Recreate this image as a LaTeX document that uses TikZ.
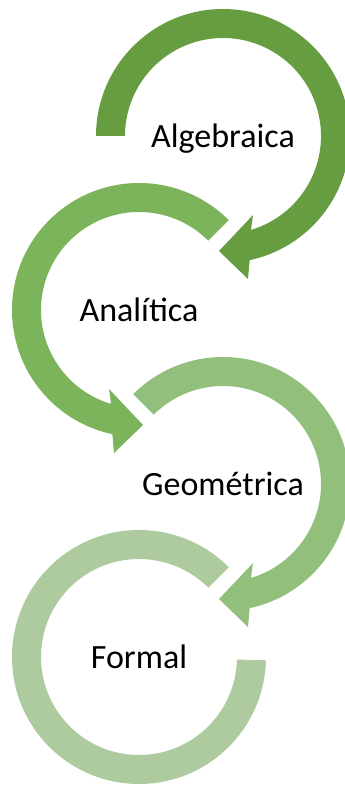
\documentclass[tikz,border=0pt]{standalone}
\usepackage{fontspec}
\setmainfont{Carlito}
\begin{document}
\begin{tikzpicture}[x=1pt, y=1pt]
    \def\rOut{127}
    \def\rIn{98}

    \definecolor{ringOne}{HTML}{669D41}
    \definecolor{ringTwo}{HTML}{7BB45A}
    \definecolor{ringThree}{HTML}{93BF7D}
    \definecolor{ringFour}{HTML}{ADCB9E}

    \tikzset{stage text/.style={anchor=base, text=black, font=\fontsize{34}{40}\selectfont}}

    % Page frame
    \useasboundingbox (0,0) rectangle (345,785);
    \clip (0,0) rectangle (345,785);

    % Circle centres
    \coordinate (C1) at (223,649);
    \coordinate (C2) at (139,475);
    \coordinate (C3) at (223,301);
    \coordinate (C4) at (139,128);

    % Ring running clockwise from angle #1, ending in an arrow head at the bottom
    \def\arrowRing#1{(#1:\rOut) arc[start angle=#1, end angle=-77.9, radius=\rOut]
        -- (25,-143) -- (-4,-115) -- (30,-79) -- (-73.4:\rIn)
        arc[start angle=-73.4, end angle=#1, radius=\rIn] -- cycle}

    % Rings with arrow heads
    \begin{scope}[shift={(C1)}]
        \fill[ringOne] \arrowRing{180};
    \end{scope}
    \begin{scope}[shift={(C2)}, xscale=-1]
        \fill[ringTwo] \arrowRing{135};
    \end{scope}
    \begin{scope}[shift={(C3)}]
        \fill[ringThree] \arrowRing{135};
    \end{scope}

    % Last ring, no arrow head
    \begin{scope}[shift={(C4)}, xscale=-1]
        \fill[ringFour] (135:\rOut) arc[start angle=135, end angle=-178.5, radius=\rOut]
            -- (-178.5:\rIn) arc[start angle=-178.5, end angle=135, radius=\rIn] -- cycle;
    \end{scope}

    % Stage names
    \node[stage text, yshift=-12pt] (algebraica) at (C1) {Algebraica};
    \node[stage text, yshift=-12pt] (analitica) at (C2) {Analítica};
    \node[stage text, yshift=-12pt] (geometrica) at (C3) {Geométrica};
    \node[stage text, yshift=-12pt] (formal) at (C4) {Formal};

\end{tikzpicture}
\end{document}
